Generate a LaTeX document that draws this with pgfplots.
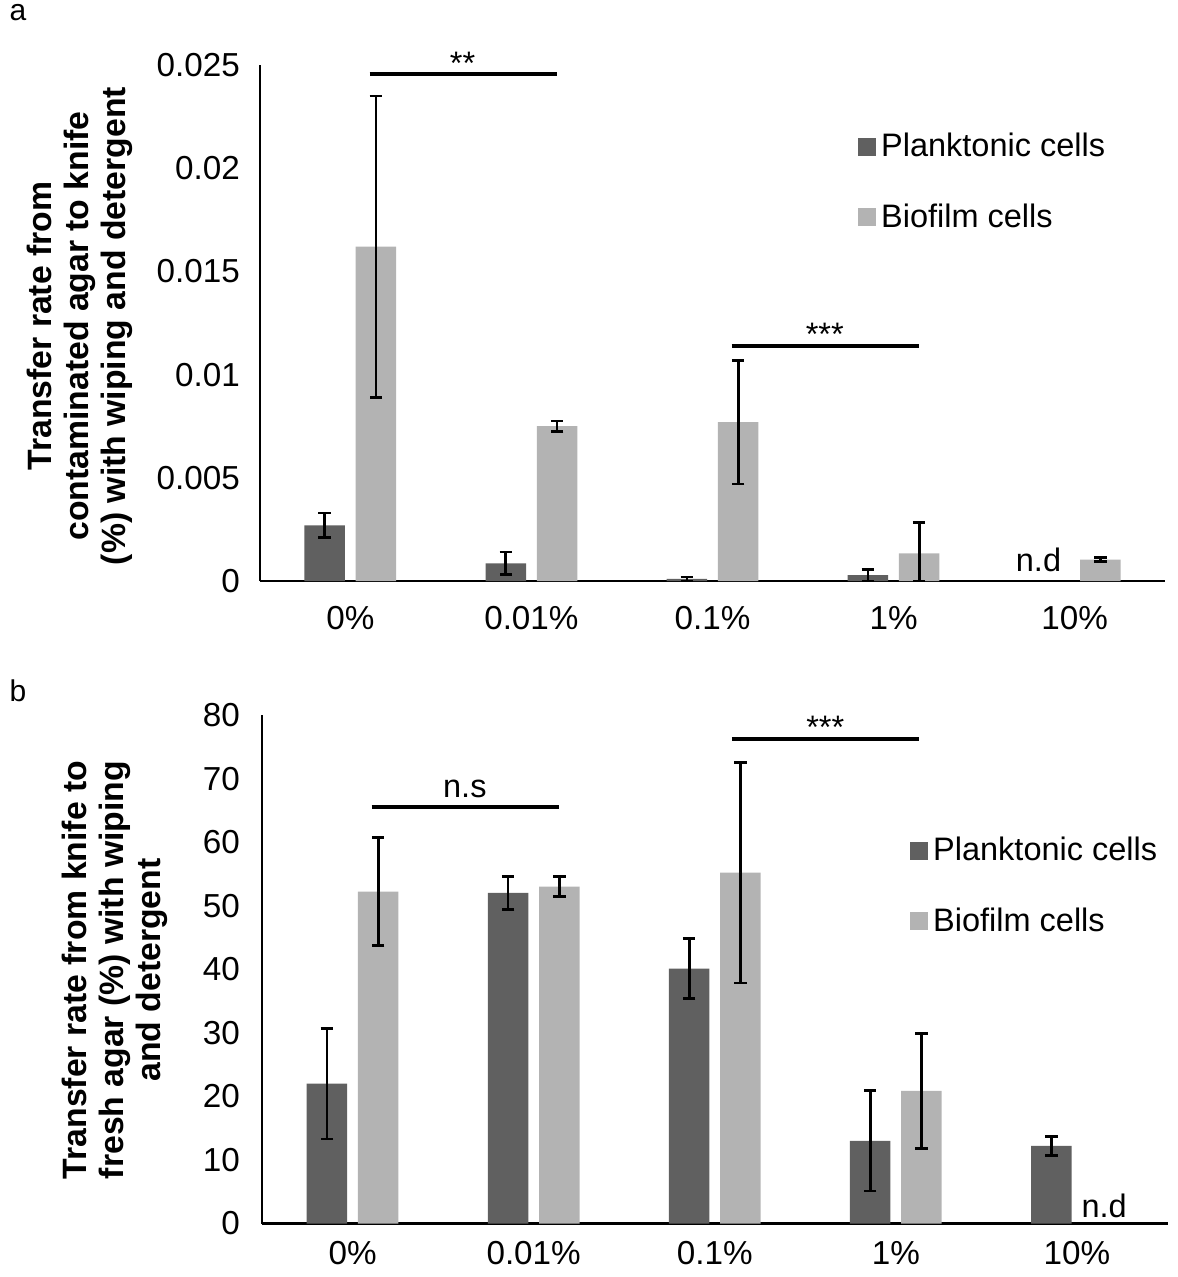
\documentclass[border=0pt]{standalone}
\usepackage{pgfplots}
\pgfplotsset{compat=1.18}
\usepackage{fontspec}
\setmainfont{Liberation Sans}
\definecolor{dk}{HTML}{606060}
\definecolor{lt}{HTML}{B3B3B3}
\pgfplotsset{
  panel/.style={
    scale only axis, width=362.2pt,
    axis x line=bottom, axis y line=left,
    axis line style={-, line width=1pt, black},
    major tick length=0pt,
    xmin=-0.5, xmax=4.5, xtick={0,...,4},
    xticklabels={0\%,0.01\%,0.1\%,1\%,10\%},
    ymin=0, scaled y ticks=false,
    ybar=4.3pt, bar width=16.2pt,
    tick label style={font=\fontsize{13.3}{15}\selectfont, black},
    /pgf/number format/assume math mode=true,
    clip=false,
    legend style={draw=none, fill=none, font=\fontsize{13}{15}\selectfont, row sep=13.2pt, cells={anchor=west}},
    legend image code/.code={\fill[##1] (0pt,-3.6pt) rectangle (7.2pt,3.6pt);},
  },
  eb/.style={error bars/.cd, y dir=both, y explicit,
    error bar style={draw=black, line width=1.1pt},
    error mark options={rotate=90, mark size=2.5pt, line width=1.1pt, draw=black}},
}
\begin{document}
\begin{tikzpicture}
\useasboundingbox (0,0) rectangle (470.8pt,-510.8pt);
% ---------- panel a ----------
\begin{axis}[panel, anchor=south west, at={(103.9pt,-232.4pt)}, height=206.4pt,
  ymax=0.025, ytick={0,0.005,0.01,0.015,0.02,0.025},
  yticklabels={0,0.005,0.01,0.015,0.02,0.025},
  xticklabel style={yshift=-6.6pt}, yticklabel style={xshift=-4.4pt},
  legend style={at={(rel axis cs:0.652,0.888)}, anchor=north west}]
\addplot[fill=dk, draw=none, eb] coordinates {
  (0,0.0027) +- (0,0.0006)
  (1,0.00085) +- (0,0.00055)
  (2,0.0001) += (0,0.0001) -= (0,0.0001)
  (3,0.00028) += (0,0.00029) -= (0,0.00028)
};
\addplot[fill=lt, draw=none, eb] coordinates {
  (0,0.0162) +- (0,0.0073)
  (1,0.0075) +- (0,0.00025)
  (2,0.0077) +- (0,0.0030)
  (3,0.00134) += (0,0.0015) -= (0,0.00134)
  (4,0.00104) +- (0,0.0001)
};
\legend{Planktonic cells, Biofilm cells}
\draw[line width=1.6pt] (axis cs:0.106,0.02455) -- (axis cs:1.143,0.02455);
\node[anchor=base, font=\fontsize{13}{15}\selectfont] at (axis cs:0.62,0.02455) {**};
\draw[line width=1.6pt] (axis cs:2.106,0.0114) -- (axis cs:3.142,0.0114);
\node[anchor=base, font=\fontsize{13}{15}\selectfont] at (axis cs:2.62,0.0114) {***};
\node[anchor=base, font=\fontsize{13}{15}\selectfont, yshift=4pt] at (axis cs:3.80,0) {n.d};
\end{axis}
% ---------- panel b ----------
\begin{axis}[panel, anchor=south west, at={(104.8pt,-489.4pt)}, height=203.4pt,
  ymax=80, ytick={0,10,...,80},
  xticklabel style={yshift=-3.6pt}, yticklabel style={xshift=-5.3pt},
  legend style={at={(rel axis cs:0.707,0.78)}, anchor=north west}]
\addplot[fill=dk, draw=none, eb] coordinates {
  (0,22.0) +- (0,8.7)
  (1,52.0) +- (0,2.6)
  (2,40.1) +- (0,4.75)
  (3,13.0) +- (0,7.9)
  (4,12.2) +- (0,1.46)
};
\addplot[fill=lt, draw=none, eb] coordinates {
  (0,52.2) +- (0,8.5)
  (1,53.0) +- (0,1.6)
  (2,55.2) +- (0,17.35)
  (3,20.85) +- (0,9.1)
};
\legend{Planktonic cells, Biofilm cells}
\draw[line width=1.6pt] (axis cs:0.105,65.5) -- (axis cs:1.141,65.5);
\node[anchor=base, font=\fontsize{13}{15}\selectfont, yshift=4pt] at (axis cs:0.62,65.5) {n.s};
\draw[line width=1.6pt] (axis cs:2.094,76.3) -- (axis cs:3.13,76.3);
\node[anchor=base, font=\fontsize{13}{15}\selectfont] at (axis cs:2.61,76.3) {***};
\node[anchor=base, font=\fontsize{13}{15}\selectfont, yshift=2.4pt] at (axis cs:4.15,0) {n.d};
\end{axis}
% ---------- labels ----------
\node[rotate=90, align=center, font=\fontsize{13.5}{14.8}\selectfont\bfseries] at (32pt,-130.4pt)
  {Transfer rate from\\contaminated agar to knife\\(\%) with wiping and detergent};
\node[rotate=90, align=center, font=\fontsize{13.5}{14.8}\selectfont\bfseries] at (46pt,-388pt)
  {Transfer rate from knife to\\fresh agar (\%) with wiping\\and detergent};
\node[font=\fontsize{12}{14}\selectfont] at (7.2pt,-5.2pt) {a};
\node[font=\fontsize{12}{14}\selectfont] at (7.2pt,-276.4pt) {b};
\end{tikzpicture}
\end{document}
